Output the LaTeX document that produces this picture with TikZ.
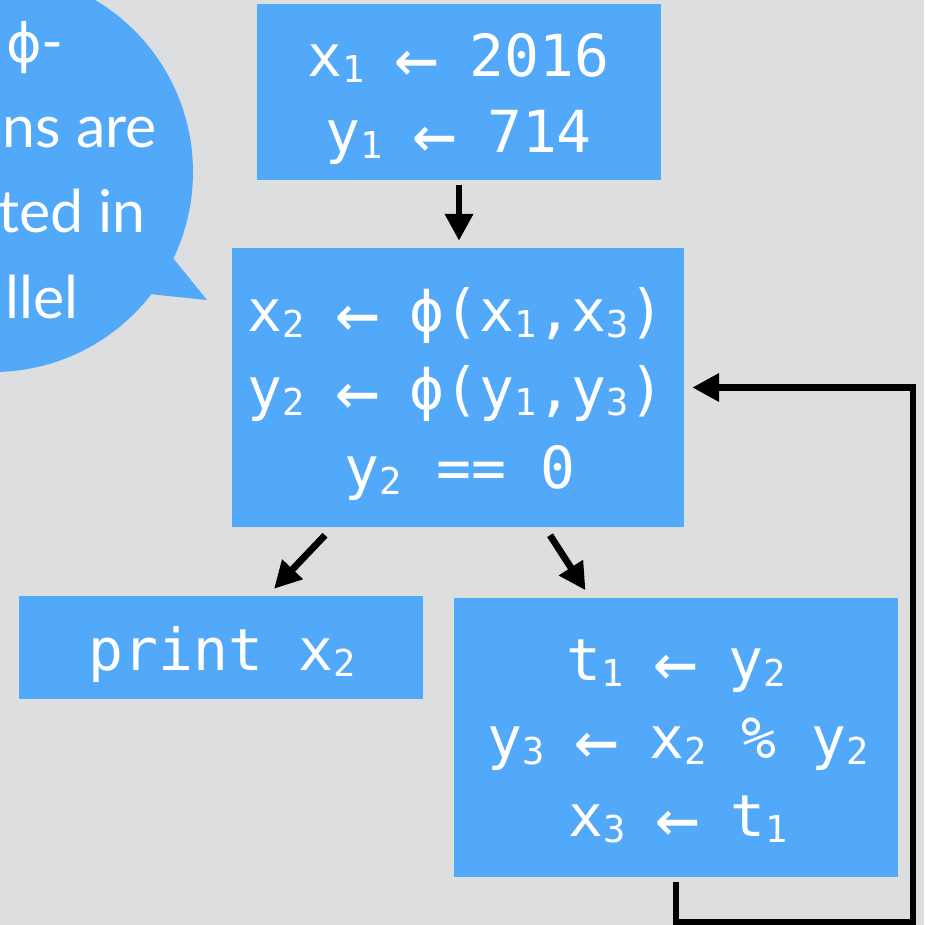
\documentclass[tikz,border=0pt]{standalone}
\usepackage{fontspec}
\setmonofont{DejaVu Sans Mono}
\newfontfamily\bubfont{Lato}
\newfontfamily\phifont{DejaVu Sans}
\usetikzlibrary{arrows.meta}
\definecolor{bgc}{RGB}{221,222,224}
\definecolor{boxc}{RGB}{82,168,249}
\newcommand{\sbs}[1]{\raisebox{-6pt}{\fontsize{37}{37}\selectfont #1}}
\newcommand{\lar}{\makebox[35pt]{\raisebox{-7pt}{\fontsize{74}{74}\selectfont ←}}}
\tikzset{
  codebox/.style={fill=boxc, inner sep=0pt},
  codeline/.style={text=white, inner sep=0pt, anchor=base,
    font=\ttfamily\fontsize{58}{77}\selectfont},
  arr/.style={draw=black, line width=6.8pt, line join=miter,
    -{Triangle[length=27pt,width=27pt]}},
  bubtext/.style={text=white, inner sep=0pt, anchor=base east,
    font=\bubfont\fontsize{59}{85}\selectfont}
}
\begin{document}
\begin{tikzpicture}[x=1pt,y=-1pt]
\useasboundingbox (0,0) rectangle (924,925);
\fill[bgc] (0,0) rectangle (924,925);
\begin{scope}
\clip (0,0) rectangle (924,925);
\fill[boxc] (-7,172) circle[radius=200pt];
\fill[boxc] (140,240) -- (173,258) -- (207,300) -- (149,294) -- cycle;
\node[bubtext] (b1) at (64,63) {{\phifont\fontsize{54}{54}\selectfont ϕ}-};
\node[bubtext] (b2) at (157,148) {ns are};
\node[bubtext] (b3) at (146,233) {ted in};
\node[bubtext] (b4) at (79,318) {llel};
\end{scope}

% boxes
\node[codebox, minimum width=404pt, minimum height=176pt] (top) at (459,92) {};
\node[codebox, minimum width=452pt, minimum height=279pt] (mid) at (458,387.5) {};
\node[codebox, minimum width=404pt, minimum height=103pt] (print) at (221,647.5) {};
\node[codebox, minimum width=444pt, minimum height=279pt] (bot) at (675.5,737) {};

% texts
\node[codeline] (ta) at (458.5,77) {x\sbs{1} \lar{} 2016};
\node[codeline] (tb) at (458.5,153) {y\sbs{1} \lar{} 714};
\node[codeline] (ma) at (456,331) {x\sbs{2} \lar{} ϕ(x\sbs{1},x\sbs{3})};
\node[codeline] (mb) at (456,409) {y\sbs{2} \lar{} ϕ(y\sbs{1},y\sbs{3})};
\node[codeline] (mc) at (460,488) {y\sbs{2} == 0};
\node[codeline] (pa) at (222,670) {print x\sbs{2}};
\node[codeline] (ba) at (676,680) {t\sbs{1} \lar{} y\sbs{2}};
\node[codeline] (bb) at (678,758) {y\sbs{3} \lar{} x\sbs{2} \% y\sbs{2}};
\node[codeline] (bc) at (678,836) {x\sbs{3} \lar{} t\sbs{1}};

% connectors
\draw[arr] ([yshift=-5pt]top.south) -- ([yshift=7pt]top.south |- mid.north);
\draw[arr] ([xshift=-133pt,yshift=-8pt]mid.south) -- ([xshift=53pt,yshift=7pt]print.north);
\draw[arr] ([xshift=92pt,yshift=-8pt]mid.south) -- ([xshift=-90pt,yshift=7pt]bot.north);
\coordinate (c1) at (913,922);
\draw[arr] ([xshift=0.5pt,yshift=-5pt]bot.south) |- (c1) |- ([xshift=8pt]mid.east);
\end{tikzpicture}
\end{document}
